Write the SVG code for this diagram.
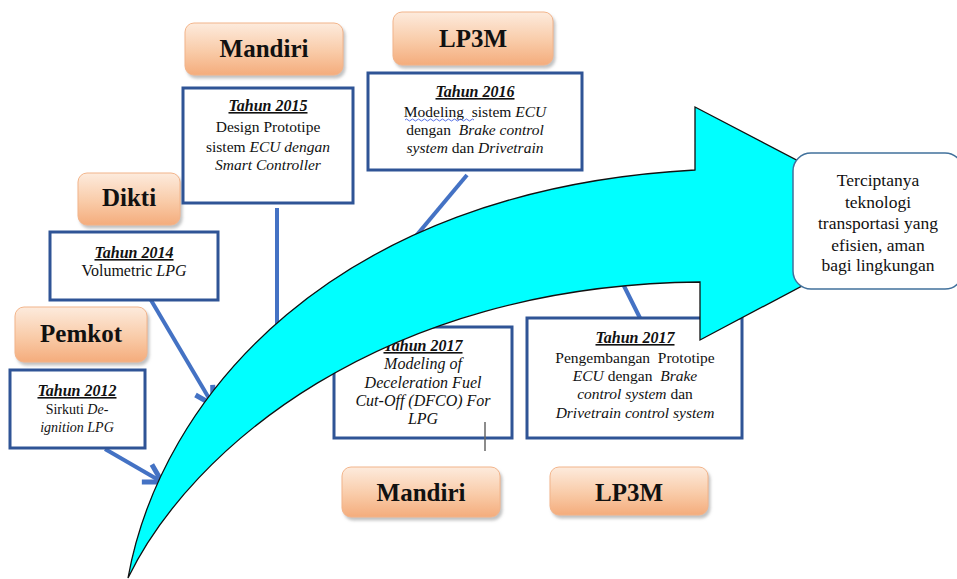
<svg xmlns="http://www.w3.org/2000/svg" width="957" height="579" viewBox="0 0 957 579" font-family="Liberation Serif, serif">
<defs>
<linearGradient id="peach" x1="0" y1="0" x2="0" y2="1">
<stop offset="0" stop-color="#FDEBDD"/>
<stop offset="0.55" stop-color="#F9CBA8"/>
<stop offset="1" stop-color="#F4AC7C"/>
</linearGradient>
<filter id="shadow" x="-10%" y="-10%" width="125%" height="135%">
<feDropShadow dx="2" dy="3" stdDeviation="1.5" flood-color="#9a9a9a" flood-opacity="0.6"/>
</filter>
<marker id="chev" markerUnits="userSpaceOnUse" markerWidth="30" markerHeight="30" viewBox="-18 -12 22 24" refX="0" refY="0" orient="auto">
<path d="M-14,-8 L0,0 L-14,8" fill="none" stroke="#4472C4" stroke-width="4" stroke-linejoin="miter"/>
</marker>
</defs>
<style>
.lbl rect{fill:url(#peach);stroke:#F2B48A;stroke-width:1;filter:url(#shadow);}
.lbl text{font-weight:bold;font-size:25px;fill:#111;text-anchor:middle;}
.tb rect{fill:#fff;stroke:#2F5496;stroke-width:3;}
.tb text{font-size:15.5px;fill:#111;text-anchor:middle;}
.tb text.hd{font-weight:bold;font-style:italic;text-decoration:underline;font-size:16px;}
.it{font-style:italic;}
.con line{stroke:#4472C4;stroke-width:4;}
.res rect{fill:#fff;stroke:#41719C;stroke-width:1.5;}
.res text{font-size:17.5px;fill:#111;text-anchor:middle;}
</style>

<g id="connectors" class="con">
<line x1="105" y1="449" x2="162" y2="482" marker-end="url(#chev)"/>
<line x1="145" y1="290" x2="213" y2="405" marker-end="url(#chev)"/>
<line x1="277" y1="208" x2="277" y2="345"/>
<line x1="467" y1="175" x2="400" y2="255"/>
<line x1="640" y1="318" x2="620" y2="278"/>
</g>

<g id="pemkot" class="lbl"><rect x="15" y="307" width="132" height="55" rx="9"/><text x="81" y="342">Pemkot</text></g>
<g id="dikti" class="lbl"><rect x="78" y="173" width="102" height="52" rx="9"/><text x="129" y="206">Dikti</text></g>
<g id="mandiri1" class="lbl"><rect x="185" y="23" width="158" height="52" rx="9"/><text x="264" y="57">Mandiri</text></g>
<g id="lp3m1" class="lbl"><rect x="393" y="12" width="160" height="53" rx="9"/><text x="473" y="47">LP3M</text></g>
<g id="mandiri2" class="lbl"><rect x="342" y="467" width="158" height="50" rx="9"/><text x="421" y="501">Mandiri</text></g>
<g id="lp3m2" class="lbl"><rect x="550" y="467" width="158" height="48" rx="9"/><text x="629" y="501">LP3M</text></g>

<g id="t2012" class="tb"><rect x="10" y="370" width="135" height="78"/>
<text class="hd" x="77" y="396">Tahun 2012</text>
<text x="77" y="414" style="font-size:14px">Sirkuti <tspan class="it">De-</tspan></text>
<text x="77" y="432" style="font-size:14px" class="it">ignition LPG</text></g>

<g id="t2014" class="tb"><rect x="50" y="232" width="168" height="68"/>
<text class="hd" x="134" y="258">Tahun 2014</text>
<text x="134" y="276" style="font-size:16px">Volumetric <tspan class="it">LPG</tspan></text></g>

<g id="t2015" class="tb"><rect x="183" y="88" width="170" height="115"/>
<text class="hd" x="268" y="111">Tahun 2015</text>
<text x="268" y="132">Design Prototipe</text>
<text x="268" y="152">sistem <tspan class="it">ECU dengan</tspan></text>
<text x="268" y="170" class="it">Smart Controller</text></g>

<g id="t2016" class="tb"><rect x="368" y="73" width="214" height="97"/>
<text class="hd" x="475" y="97">Tahun 2016</text>
<text x="475" y="117" xml:space="preserve">Modeling  sistem <tspan class="it">ECU</tspan></text>
<path d="M405,120 q1.5,-2 3,0 t3,0 t3,0 t3,0 t3,0 t3,0 t3,0 t3,0 t3,0 t3,0 t3,0 t3,0 t3,0 t3,0 t3,0 t3,0 t3,0 t3,0 t3,0 t3,0 t3,0 t3,0 t3,0" fill="none" stroke="#3050E0" stroke-width="0.8"/>
<text x="475" y="135" xml:space="preserve">dengan  <tspan class="it">Brake control</tspan></text>
<text x="475" y="153"><tspan class="it">system</tspan> dan <tspan class="it">Drivetrain</tspan></text></g>

<g id="t2017a" class="tb"><rect x="334" y="327" width="178" height="111"/>
<text class="hd" x="423" y="351">Tahun 2017</text>
<text x="423" y="369" class="it" style="font-size:16px">Modeling of</text>
<text x="423" y="388" class="it" style="font-size:16px">Deceleration Fuel</text>
<text x="423" y="406" class="it" style="font-size:16px">Cut-Off (DFCO) For</text>
<text x="423" y="424" class="it" style="font-size:16px">LPG</text>
<line x1="485" y1="422" x2="485" y2="451" stroke="#666" stroke-width="1.5"/></g>

<g id="t2017b" class="tb"><rect x="527" y="318" width="215" height="120"/>
<text class="hd" x="635" y="343">Tahun 2017</text>
<text x="635" y="363" xml:space="preserve">Pengembangan  Prototipe</text>
<text x="635" y="381" xml:space="preserve"><tspan class="it">ECU</tspan> dengan  <tspan class="it">Brake</tspan></text>
<text x="635" y="399"><tspan class="it">control system</tspan> dan</text>
<text x="635" y="418" class="it">Drivetrain control system</text></g>

<g id="arrow">
<path d="M128,578 C160,400 330,190 695,170 L695,107 L919,224 L700,340 L700,282 C380,285 190,450 128,578 Z" fill="#00FFFF" stroke="#111" stroke-width="1.3" stroke-linejoin="miter"/>
</g>

<g id="result" class="res"><rect x="793" y="153" width="170" height="136" rx="18"/>
<text x="878" y="186">Terciptanya</text>
<text x="878" y="208">teknologi</text>
<text x="878" y="229">transportasi yang</text>
<text x="878" y="251">efisien, aman</text>
<text x="878" y="271">bagi lingkungan</text></g>
</svg>
